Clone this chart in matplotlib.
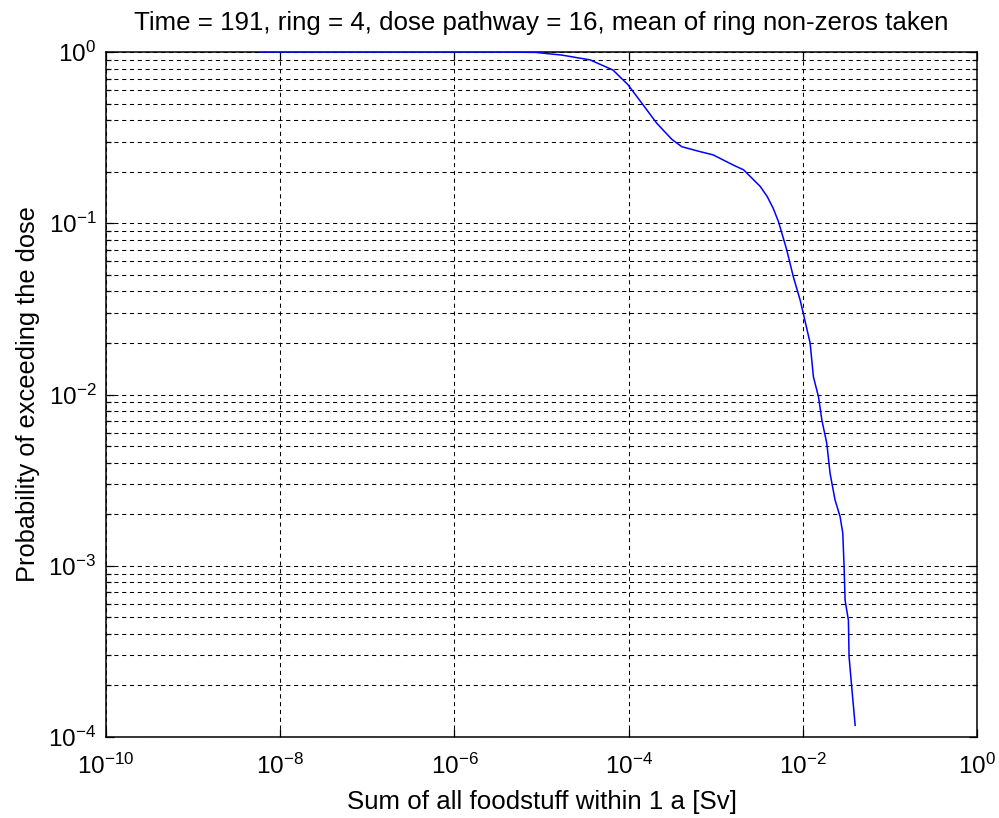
import matplotlib
matplotlib.use("Agg")
import matplotlib.pyplot as plt
import matplotlib.ticker as mticker

plt.rcParams['font.family'] = ['Liberation Sans', 'DejaVu Sans']
plt.rcParams['mathtext.fontset'] = 'custom'
plt.rcParams['mathtext.rm'] = 'Liberation Sans'
plt.rcParams['mathtext.default'] = 'regular'

# dose [Sv] vs exceedance probability
dose = [5.75e-9, 3.2e-6, 8.5e-6, 1.7e-5, 3.6e-5, 6.6e-5, 9.8e-5, 1.24e-4,
        2.1e-4, 3.13e-4, 4.07e-4, 6.6e-4, 9.3e-4, 1.58e-3, 2.09e-3, 3.24e-3,
        3.9e-3, 4.57e-3, 5.25e-3, 6.53e-3, 7.76e-3, 9.3e-3, 1.01e-2, 1.21e-2,
        1.32e-2, 1.51e-2, 1.65e-2, 1.88e-2, 2.05e-2, 2.34e-2, 2.67e-2, 2.87e-2,
        2.97e-2, 3.05e-2, 3.33e-2, 3.39e-2, 3.63e-2, 3.98e-2]
prob = [1.0, 1.0, 0.995, 0.96, 0.90, 0.785, 0.645, 0.55,
        0.384, 0.309, 0.280, 0.262, 0.251, 0.219, 0.205, 0.164,
        0.143, 0.122, 0.102, 0.0698, 0.0488, 0.0356, 0.0298, 0.020,
        0.0127, 0.0097, 0.0071, 0.00519, 0.00347, 0.00242, 0.00194, 0.00155,
        0.00099, 0.00063, 0.00048, 0.000294, 0.000197, 0.000117]

xticks = [1e-10, 1e-8, 1e-6, 1e-4, 1e-2, 1e0]

fig = plt.figure(figsize=(9.99, 8.18), dpi=100)
ax = fig.add_axes([0.1061, 0.099, 0.872, 0.8374])

ax.loglog(dose, prob, color='#0000ff', lw=1.1, zorder=3)

ax.set_xlim(1e-10, 1e0)
ax.set_ylim(1e-4, 1e0)
ax.set_xticks(xticks)
ax.xaxis.set_minor_locator(mticker.NullLocator())
ax.yaxis.set_major_locator(mticker.LogLocator(base=10, numticks=10))
ax.yaxis.set_minor_locator(mticker.LogLocator(base=10, subs=range(2, 10), numticks=20))
ax.yaxis.set_minor_formatter(mticker.NullFormatter())

dash = (0, (4, 3.5))
ax.grid(True, which='major', axis='both', color='black', lw=0.75, linestyle=dash)
ax.grid(True, which='minor', axis='y', color='black', lw=0.75, linestyle=dash)

ax.tick_params(which='both', direction='in', top=True, right=True,
               labelsize=17.5, colors='black', width=0.9)
ax.tick_params(which='major', length=6)
ax.tick_params(axis='x', which='major', pad=12)
ax.tick_params(axis='y', which='major', pad=7)
ax.tick_params(which='minor', length=3.5)
for s in ax.spines.values():
    s.set_linewidth(1.1)

ax.set_title('Time = 191, ring = 4, dose pathway = 16, mean of ring non-zeros taken',
             fontsize=18.6, pad=16)
ax.set_xlabel('Sum of all foodstuff within 1 a [Sv]', fontsize=18.6, labelpad=8)
ax.set_ylabel('Probability of exceeding the dose', fontsize=18.3, labelpad=6)

fig.savefig('out.png', dpi=100)
